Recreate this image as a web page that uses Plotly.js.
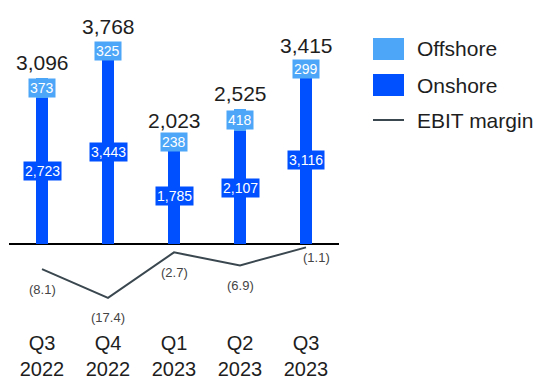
<!DOCTYPE html>
<html>
<head>
<meta charset="utf-8">
<script src="https://cdn.plot.ly/plotly-3.0.1.min.js"></script>
<style>html,body{margin:0;padding:0;background:#fff;}#chart{width:538px;height:379px;}</style>
</head>
<body>
<div id="chart"></div>
<script>
const quarters = ['Q3<br>2022', 'Q4<br>2022', 'Q1<br>2023', 'Q2<br>2023', 'Q3<br>2023'];
const offshore = [373, 325, 238, 418, 299];
const onshore = [2723, 3443, 1785, 2107, 3116];
const totals = [3096, 3768, 2023, 2525, 3415];
const ebitMargin = [-8.1, -17.4, -2.7, -6.9, -1.1];
const ebitLabels = ['(8.1)', '(17.4)', '(2.7)', '(6.9)', '(1.1)'];
const seriesNames = ['Offshore', 'Onshore', 'EBIT margin'];

const C_OFF = '#4DA6F8';
const C_ON = '#0050FF';
const C_LINE = '#3A474F';
const FONT = 'Liberation Sans, Arial, sans-serif';

const fmt = v => v.toLocaleString('en-US');

const traces = [
  {type: 'bar', name: seriesNames[1], x: quarters, y: onshore, marker: {color: C_ON}, width: 0.17, hoverinfo: 'skip'},
  {type: 'bar', name: seriesNames[0], x: quarters, y: offshore, marker: {color: C_OFF}, width: 0.17, hoverinfo: 'skip'},
  {type: 'scatter', mode: 'lines', name: seriesNames[2], x: quarters, y: ebitMargin, yaxis: 'y2',
   line: {color: C_LINE, width: 2}, hoverinfo: 'skip'}
];

// plot area geometry (pixels) used for paper-coord legend placement
const L = 9, T = 10, W = 330, H = 319;
const px = p => (p - L) / W;
const py = p => (T + H - p) / H;

const annotations = [];
quarters.forEach((q, i) => {
  annotations.push({x: q, y: totals[i], xref: 'x', yref: 'y', text: fmt(totals[i]), showarrow: false,
    yanchor: 'bottom', yshift: 2, font: {family: FONT, size: 21, color: '#1e1e1e'}});
  annotations.push({x: q, y: onshore[i] / 2, xref: 'x', yref: 'y', text: fmt(onshore[i]), showarrow: false,
    bgcolor: C_ON, borderpad: 1, font: {family: FONT, size: 14, color: '#ffffff'}});
  annotations.push({x: q, y: onshore[i] + offshore[i] / 2, xref: 'x', yref: 'y', text: fmt(offshore[i]), showarrow: false,
    bgcolor: C_OFF, borderpad: 1, font: {family: FONT, size: 14, color: '#ffffff'}});
  const last = i === quarters.length - 1;
  annotations.push({x: q, y: ebitMargin[i], xref: 'x', yref: 'y2', text: ebitLabels[i], showarrow: false,
    yshift: last ? -10 : -20, xshift: last ? 10 : 0, font: {family: FONT, size: 13, color: '#444444'}});
});

// custom legend
const legendRows = [
  {name: seriesNames[0], color: C_OFF, kind: 'box', y: 49},
  {name: seriesNames[1], color: C_ON, kind: 'box', y: 85},
  {name: seriesNames[2], color: C_LINE, kind: 'line', y: 120}
];
const shapes = [];
legendRows.forEach(r => {
  if (r.kind === 'box') {
    shapes.push({type: 'rect', xref: 'paper', yref: 'paper', x0: px(373), x1: px(404), y0: py(r.y + 11), y1: py(r.y - 11),
      fillcolor: r.color, line: {width: 0}});
  } else {
    shapes.push({type: 'line', xref: 'paper', yref: 'paper', x0: px(373), x1: px(404), y0: py(r.y), y1: py(r.y),
      line: {color: r.color, width: 2}});
  }
  annotations.push({xref: 'paper', yref: 'paper', x: px(415), y: py(r.y), xanchor: 'left', yanchor: 'middle',
    text: r.name, showarrow: false, font: {family: FONT, size: 21, color: '#1e1e1e'}});
});

const layout = {
  width: 538, height: 379,
  margin: {l: L, r: 538 - L - W, t: T, b: 379 - T - H, pad: 0},
  paper_bgcolor: '#ffffff', plot_bgcolor: '#ffffff',
  barmode: 'stack', showlegend: false,
  font: {family: FONT},
  xaxis: {type: 'category', range: [-0.5, 4.5], showgrid: false, zeroline: false, showline: false, ticks: '',
    tickfont: {family: FONT, size: 20, color: '#1e1e1e'}, fixedrange: true},
  yaxis: {range: [-1585.5, 4365], showgrid: false, showticklabels: false, ticks: '', showline: false,
    zeroline: true, zerolinecolor: '#000000', zerolinewidth: 2, fixedrange: true},
  yaxis2: {range: [-27.42, 75.48], overlaying: 'y', side: 'right', showgrid: false, showticklabels: false,
    ticks: '', showline: false, zeroline: false, fixedrange: true},
  annotations: annotations,
  shapes: shapes
};

Plotly.newPlot('chart', traces, layout, {staticPlot: true, displayModeBar: false});
</script>
</body>
</html>
